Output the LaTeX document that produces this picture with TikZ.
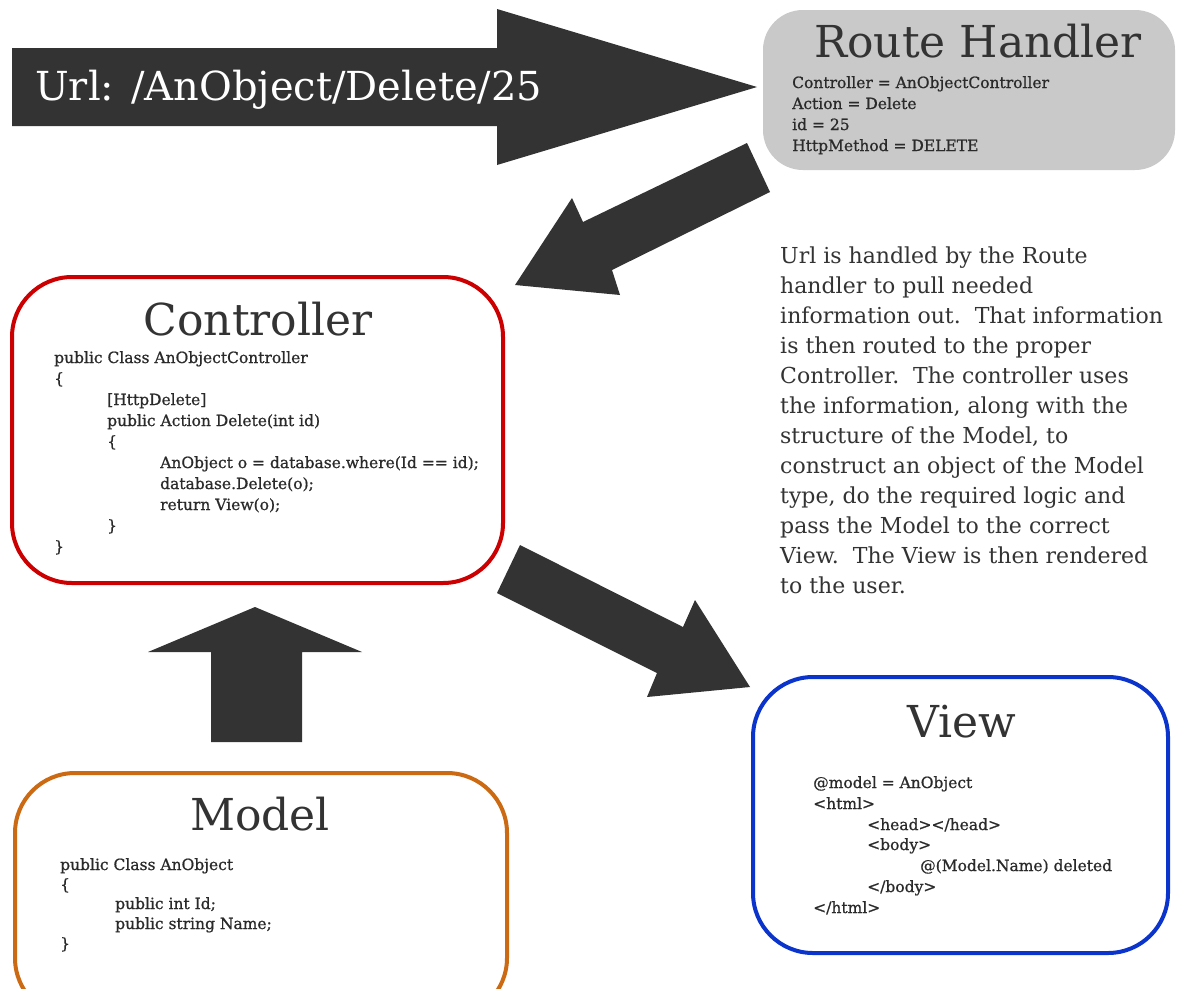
\documentclass[tikz,border=0pt]{standalone}
\usepackage{fontspec}
\setmainfont{DejaVu Serif}
\newfontfamily\codefam[FakeBold=0.8]{DejaVu Serif}
\definecolor{arrowgray}{HTML}{333333}
\definecolor{rhgray}{HTML}{C9C9C9}
\definecolor{ctrlred}{HTML}{CC0000}
\definecolor{viewblue}{HTML}{0B34CC}
\definecolor{modelorange}{HTML}{CC6A14}
\definecolor{txtgray}{HTML}{333333}
\definecolor{codecol}{HTML}{2A2A2A}
\newcommand{\ttlfnt}{\fontsize{44}{50}\selectfont}
\newcommand{\codefnt}{\codefam\fontsize{15.5}{21}\selectfont}
\newcommand{\descfnt}{\fontsize{22}{30}\selectfont}
\newcommand{\urlfnt}{\fontsize{40}{46}\selectfont}
\begin{document}
\begin{tikzpicture}[x=1pt,y=-1pt,
  box/.style={rectangle, rounded corners=60pt, line width=4pt, inner sep=0pt},
  ttl/.style={anchor=base, inner sep=0pt, font=\ttlfnt, text=txtgray},
  code/.style={anchor=base west, inner sep=0pt, font=\codefnt, text=codecol},
  desc/.style={anchor=base west, inner sep=0pt, font=\descfnt, text=txtgray},
  bigarrow/.style={fill=arrowgray, draw=none}]
\useasboundingbox (0,0) rectangle (1180,988);
\fill[white] (0,0) rectangle (1180,988);

% boxes
\node[box, rounded corners=40pt, fill=rhgray, minimum width=412pt, minimum height=160pt] (route) at (969,90) {};
\node[box, draw=ctrlred, minimum width=491pt, minimum height=306pt] (controller) at (257.5,430) {};
\node[box, draw=viewblue, minimum width=415pt, minimum height=276pt] (view) at (960.5,815) {};
\node[box, draw=modelorange, minimum width=492pt, minimum height=245pt] (model) at (261,895.5) {};

% block arrows
\fill[bigarrow] (12,48) -- (497,48) -- (497,9) -- (757,87) -- (497,165) -- (497,126) -- (12,126) -- cycle;
\fill[bigarrow] (747,143) -- (770,192) -- (612,270) -- (620,295) -- (515,285) -- (572,198) -- (583,222) -- cycle;
\fill[bigarrow] (520,545) -- (683,627) -- (695,600) -- (750,687) -- (647,697) -- (657,673) -- (497,593) -- cycle;
\fill[bigarrow] (211,742) -- (211,652) -- (148,652) -- (255,607) -- (362,652) -- (302,652) -- (302,742) -- cycle;

\node[anchor=base west, inner sep=0pt, font=\urlfnt, text=white] (url) at (35,100) {Url: /AnObject/Delete/25};

% Route handler
\node[ttl] (routettl) at (978,57) {Route Handler};
\node[code] (r1) at (792,88) {Controller = AnObjectController};
\node[code] (r2) at (792,109) {Action = Delete};
\node[code] (r3) at (792,130) {id = 25};
\node[code] (r4) at (792,151) {HttpMethod = DELETE};

% Controller
\node[ttl] (ctrlttl) at (258,335) {Controller};
\node[code] (c1) at (54,363) {public Class AnObjectController};
\node[code] (c2) at (54,384) {\{};
\node[code] (c3) at (107,405) {[HttpDelete]};
\node[code] (c4) at (107,426) {public Action Delete(int id)};
\node[code] (c5) at (107,447) {\{};
\node[code] (c6) at (160,468) {AnObject o = database.where(Id == id);};
\node[code] (c7) at (160,489) {database.Delete(o);};
\node[code] (c8) at (160,510) {return View(o);};
\node[code] (c9) at (107,531) {\}};
\node[code] (c10) at (54,552) {\}};

% Model
\node[ttl] (modelttl) at (260,830) {Model};
\node[code] (m1) at (60,870) {public Class AnObject};
\node[code] (m2) at (60,890) {\{};
\node[code] (m3) at (115,909) {public int Id;};
\node[code] (m4) at (115,929) {public string Name;};
\node[code] (m5) at (60,949) {\}};

% View
\node[ttl] (viewttl) at (962,737) {View};
\node[code] (v1) at (813,788) {@model = AnObject};
\node[code] (v2) at (813,809) {<html>};
\node[code] (v3) at (867,830) {<head></head>};
\node[code] (v4) at (867,850) {<body>};
\node[code] (v5) at (920,871) {@(Model.Name) deleted};
\node[code] (v6) at (867,892) {</body>};
\node[code] (v7) at (813,913) {</html>};

% description
\foreach [count=\i] \t in {Url is handled by the Route, handler to pull needed,
  information out.~~That information, is then routed to the proper,
  Controller.~~The controller uses, {the information, along with the},
  {structure of the Model, to}, construct an object of the Model,
  {type, do the required logic and}, pass the Model to the correct,
  View.~~The View is then rendered, to the user.}
  \node[desc] (d\i) at (780,{263+30*(\i-1)}) {\t};
\end{tikzpicture}
\end{document}
